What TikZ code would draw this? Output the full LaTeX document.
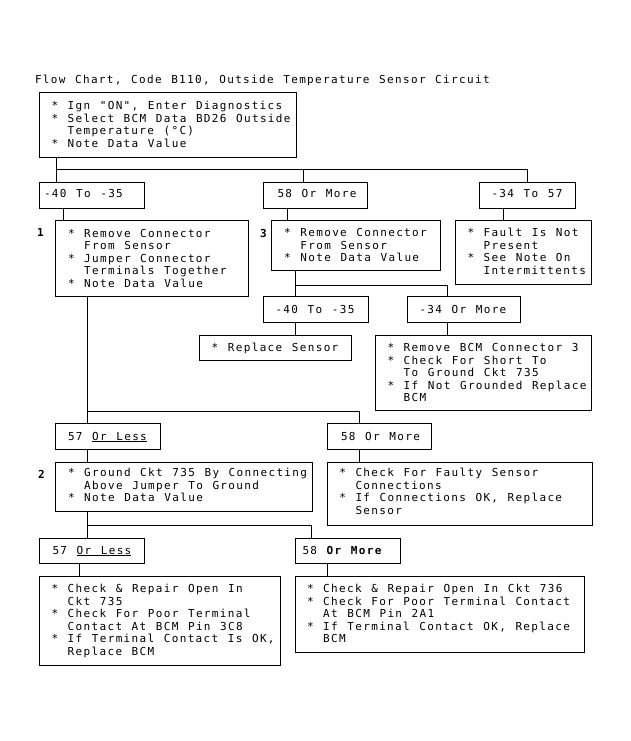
\documentclass[tikz,border=0pt]{standalone}
\usepackage{fontspec}
\newfontfamily\dmono[LetterSpace=12.2,WordSpace=1.205]{DejaVu Sans Mono}
\newcommand\ind{\hphantom{*\ }}
\tikzset{
  box/.style={draw, line width=1pt, anchor=north west, inner sep=0pt, outer sep=0pt},
  txt/.style={anchor=base west, inner sep=0pt, outer sep=0pt, font=\dmono\fontsize{11}{12.5}\selectfont},
  num/.style={txt, font=\dmono\bfseries\fontsize{11}{12.5}\selectfont},
  conn/.style={line width=1pt},
}
\begin{document}
\begin{tikzpicture}[x=1pt,y=-1pt]
\path[use as bounding box, fill=white] (0,0) rectangle (630,741);

% title
\node[txt] (title) at (35,84) {Flow Chart, Code B110, Outside Temperature Sensor Circuit};

% boxes
\node[box, minimum width=257pt, minimum height=64pt] (top) at (39,93) {};
\node[box, minimum width=105pt, minimum height=26pt] (m1) at (39.3,182.3) {};
\node[box, minimum width=104.4pt, minimum height=26pt] (m2) at (263.3,182.3) {};
\node[box, minimum width=96.7pt, minimum height=26pt] (m3) at (479,182.3) {};
\node[box, minimum width=192.6pt, minimum height=75.3pt] (b1) at (55.7,220.7) {};
\node[box, minimum width=168.3pt, minimum height=50pt] (b3) at (271.7,220.7) {};
\node[box, minimum width=136.4pt, minimum height=63.6pt] (bf) at (455.3,220.7) {};
\node[box, minimum width=105pt, minimum height=25.6pt] (m4) at (263.3,296.7) {};
\node[box, minimum width=112.7pt, minimum height=25.6pt] (m5) at (407.3,296.7) {};
\node[box, minimum width=152.4pt, minimum height=24.6pt] (br) at (199.3,335.7) {};
\node[box, minimum width=216.4pt, minimum height=75pt] (bb) at (375.3,335.7) {};
\node[box, minimum width=104.3pt, minimum height=25.7pt] (m6) at (55.7,423.3) {};
\node[box, minimum width=104.4pt, minimum height=25.7pt] (m7) at (327.3,423.3) {};
\node[box, minimum width=256.6pt, minimum height=49.4pt] (b2) at (55.7,462.3) {};
\node[box, minimum width=265pt, minimum height=63.4pt] (bc) at (327.3,462.3) {};
\node[box, minimum width=105pt, minimum height=25pt] (m8) at (39.3,538.3) {};
\node[box, minimum width=105pt, minimum height=25pt] (m9) at (295,538.3) {};
\node[box, minimum width=240.7pt, minimum height=88.3pt] (bl) at (39.3,576.7) {};
\node[box, minimum width=289pt, minimum height=75.6pt] (bR) at (295,576.7) {};

% texts
\node[txt] (ttop) at (51.5,110) {\vtop{\hbox{* Ign "ON", Enter Diagnostics}\hbox{* Select BCM Data BD26 Outside}\hbox{\ind Temperature (°C)}\hbox{* Note Data Value}}};
\node[txt] (tm1) at (44,197.7) {-40 To -35};
\node[txt] (tm2) at (277.5,197.7) {58 Or More};
\node[txt] (tm3) at (491.5,197.7) {-34 To 57};
\node[txt] (tb1) at (68,237.3) {\vtop{\hbox{* Remove Connector}\hbox{\ind From Sensor}\hbox{* Jumper Connector}\hbox{\ind Terminals Together}\hbox{* Note Data Value}}};
\node[txt] (tb3) at (284.2,236.7) {\vtop{\hbox{* Remove Connector}\hbox{\ind From Sensor}\hbox{* Note Data Value}}};
\node[txt] (tbf) at (467.5,236.7) {\vtop{\hbox{* Fault Is Not}\hbox{\ind Present}\hbox{* See Note On}\hbox{\ind Intermittents}}};
\node[txt] (tm4) at (275.5,313) {-40 To -35};
\node[txt] (tm5) at (419.5,313) {-34 Or More};
\node[txt] (tbr) at (211.7,351.7) {* Replace Sensor};
\node[txt] (tbb) at (387.5,351.7) {\vtop{\hbox{* Remove BCM Connector 3}\hbox{* Check For Short To}\hbox{\ind To Ground Ckt 735}\hbox{* If Not Grounded Replace}\hbox{\ind BCM}}};
\node[txt] (tm6) at (68,440) {57 \underline{Or Less}};
\node[txt] (tm7) at (341,440) {58 Or More};
\node[txt] (tb2) at (68,476.5) {\vtop{\hbox{* Ground Ckt 735 By Connecting}\hbox{\ind Above Jumper To Ground}\hbox{* Note Data Value}}};
\node[txt] (tbc) at (339.3,476.7) {\vtop{\hbox{* Check For Faulty Sensor}\hbox{\ind Connections}\hbox{* If Connections OK, Replace}\hbox{\ind Sensor}}};
\node[txt] (tm8) at (52.5,554) {57 \underline{Or Less}};
\node[txt] (tm9) at (302.5,554) {58 {\bfseries Or More}};
\node[txt] (tbl) at (51.5,592.7) {\vtop{\hbox{* Check \& Repair Open In}\hbox{\ind Ckt 735}\hbox{* Check For Poor Terminal}\hbox{\ind Contact At BCM Pin 3C8}\hbox{* If Terminal Contact Is OK,}\hbox{\ind Replace BCM}}};
\node[txt] (tbR) at (307,592.7) {\vtop{\hbox{* Check \& Repair Open In Ckt 736}\hbox{* Check For Poor Terminal Contact}\hbox{\ind At BCM Pin 2A1}\hbox{* If Terminal Contact OK, Replace}\hbox{\ind BCM}}};

% step numbers
\node[num] (n1) at (37,236.7) {1};
\node[num] (n3) at (260,237) {3};
\node[num] (n2) at (38,478) {2};

% connectors
\draw[conn] ([xshift=17pt]top.south west) -- ++(0,12) coordinate (j1) -| ([xshift=48.7pt]m3.north west);
\draw[conn] (j1) -- ([xshift=16.7pt]m1.north west);
\draw[conn] ([xshift=40pt]m2.north west) |- (j1);
\draw[conn] ([xshift=24pt]m1.south west) -- ([xshift=7.6pt]b1.north west);
\draw[conn] ([xshift=24pt]m2.south west) -- ([xshift=15.6pt]b3.north west);
\draw[conn] ([xshift=24.3pt]m3.south west) -- ([xshift=48pt]bf.north west);
\draw[conn] ([xshift=24pt]b3.south west) -- ([xshift=32.4pt]m4.north west);
\draw[conn] ([xshift=24pt]b3.south west) ++(0,14.3) coordinate (j2) -| ([xshift=40.4pt]m5.north west);
\draw[conn] ([xshift=32.4pt]m4.south west) -- ([xshift=96.4pt]br.north west);
\draw[conn] ([xshift=40pt]m5.south west) -- ([xshift=72pt]bb.north west);
\draw[conn] ([xshift=32pt]b1.south west) -- ([xshift=32pt]m6.north west);
\draw[conn] ([xshift=32pt]b1.south west) ++(0,115.7) coordinate (j3) -| ([xshift=32pt]m7.north west);
\draw[conn] ([xshift=32pt]m6.south west) -- ([xshift=32pt]b2.north west);
\draw[conn] ([xshift=32pt]m7.south west) -- ([xshift=32pt]bc.north west);
\draw[conn] ([xshift=32pt]b2.south west) -- ([xshift=48.4pt]m8.north west);
\draw[conn] ([xshift=32pt]b2.south west) ++(0,14) coordinate (j4) -| ([xshift=16.7pt]m9.north west);
\draw[conn] ([xshift=40pt]m8.south west) -- ([xshift=40pt]bl.north west);
\draw[conn] ([xshift=32.3pt]m9.south west) -- ([xshift=32.3pt]bR.north west);
\end{tikzpicture}
\end{document}
